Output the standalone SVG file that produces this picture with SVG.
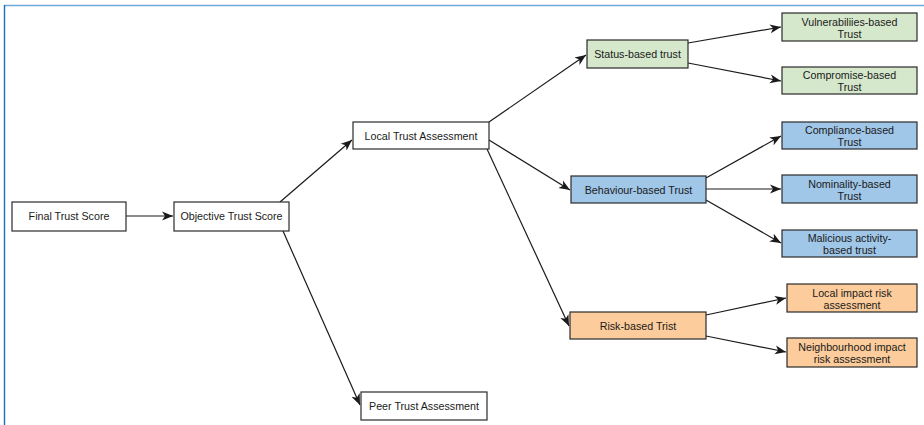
<svg xmlns="http://www.w3.org/2000/svg" width="924" height="425" viewBox="0 0 924 425">
<style>
  .box { stroke: #2a2a2a; stroke-width: 1.2; }
  .w { fill: #ffffff; }
  .g { fill: #d5e8cc; }
  .b { fill: #a0c6e8; }
  .o { fill: #fccc9c; }
  text { font-family: "Liberation Sans", Arial, sans-serif; font-size: 10.7px; fill: #1a1a1a; text-anchor: middle; }
  .edge { stroke: #1a1a1a; stroke-width: 1.2; fill: none; marker-end: url(#arr); }
</style>
<defs>
  <marker id="arr" markerUnits="userSpaceOnUse" markerWidth="12" markerHeight="10" refX="11" refY="5" orient="auto">
    <path d="M0,0.5 L11,5 L0,9.5 L3,5 Z" fill="#1a1a1a"/>
  </marker>
</defs>
<rect width="924" height="425" fill="#ffffff"/>
<line x1="4" y1="5.5" x2="924" y2="5.5" stroke="#6ca8d8" stroke-width="1.6"/>
<line x1="4.5" y1="5" x2="4.5" y2="425" stroke="#1b6fc0" stroke-width="1.4"/>

<g id="connectors">
  <line class="edge" x1="126" y1="216" x2="173" y2="216"/>
  <line class="edge" x1="280" y1="202" x2="352" y2="140"/>
  <line class="edge" x1="283" y1="231" x2="360" y2="405"/>
  <line class="edge" x1="489" y1="122" x2="586" y2="55"/>
  <line class="edge" x1="489" y1="140" x2="570" y2="190"/>
  <line class="edge" x1="487" y1="149" x2="569" y2="326"/>
  <line class="edge" x1="688" y1="43" x2="781" y2="27"/>
  <line class="edge" x1="688" y1="63" x2="781" y2="81"/>
  <line class="edge" x1="706" y1="178" x2="781" y2="136"/>
  <line class="edge" x1="706" y1="189" x2="781" y2="189"/>
  <line class="edge" x1="706" y1="200" x2="781" y2="243"/>
  <line class="edge" x1="706" y1="315" x2="786" y2="298"/>
  <line class="edge" x1="706" y1="336" x2="786" y2="352"/>
</g>

<g id="final">
  <rect class="box w" x="12" y="202" width="114" height="29"/>
  <text x="69" y="220">Final Trust Score</text>
</g>
<g id="objective">
  <rect class="box w" x="174" y="202" width="115" height="29"/>
  <text x="231.5" y="220">Objective Trust Score</text>
</g>
<g id="local">
  <rect class="box w" x="353" y="122" width="136" height="27"/>
  <text x="421" y="139.5">Local Trust Assessment</text>
</g>
<g id="peer">
  <rect class="box w" x="361" y="392" width="126" height="28"/>
  <text x="424" y="410">Peer Trust Assessment</text>
</g>
<g id="status">
  <rect class="box g" x="587" y="40" width="101" height="28"/>
  <text x="637.5" y="58">Status-based trust</text>
</g>
<g id="behaviour">
  <rect class="box b" x="571" y="176" width="135" height="27"/>
  <text x="638.5" y="193.5">Behaviour-based Trust</text>
</g>
<g id="risk">
  <rect class="box o" x="570" y="312" width="136" height="27"/>
  <text x="638" y="329.5">Risk-based Trist</text>
</g>
<g id="vulnerabilities">
  <rect class="box g" x="782" y="13" width="135" height="28"/>
  <text x="849.5" y="25.5">Vulnerabiliies-based</text>
  <text x="849.5" y="37.5">Trust</text>
</g>
<g id="compromise">
  <rect class="box g" x="782" y="67" width="135" height="27"/>
  <text x="849.5" y="79">Compromise-based</text>
  <text x="849.5" y="91">Trust</text>
</g>
<g id="compliance">
  <rect class="box b" x="782" y="122" width="135" height="27"/>
  <text x="849.5" y="134">Compliance-based</text>
  <text x="849.5" y="146">Trust</text>
</g>
<g id="nominality">
  <rect class="box b" x="782" y="175" width="135" height="28"/>
  <text x="849.5" y="187.5">Nominality-based</text>
  <text x="849.5" y="199.5">Trust</text>
</g>
<g id="malicious">
  <rect class="box b" x="782" y="230" width="135" height="27"/>
  <text x="849.5" y="242">Malicious activity-</text>
  <text x="849.5" y="254">based trust</text>
</g>
<g id="localimpact">
  <rect class="box o" x="787" y="284" width="130" height="28"/>
  <text x="852" y="296.5">Local impact risk</text>
  <text x="852" y="308.5">assessment</text>
</g>
<g id="neighbourhood">
  <rect class="box o" x="787" y="338" width="130" height="29"/>
  <text x="852" y="350.5">Neighbourhood impact</text>
  <text x="852" y="362.5">risk assessment</text>
</g>
</svg>
